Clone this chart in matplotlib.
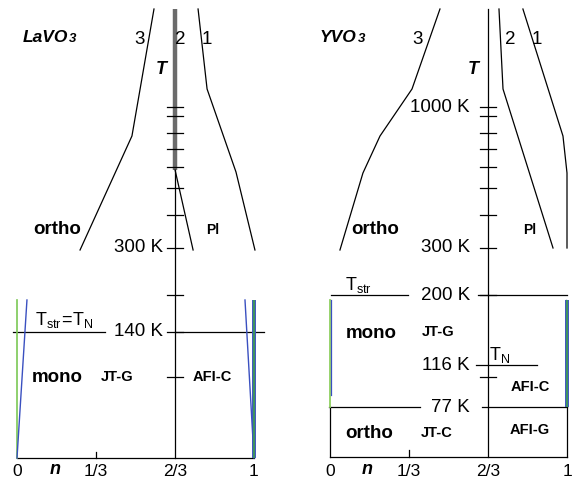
import matplotlib
matplotlib.use("Agg")
import matplotlib.pyplot as plt

plt.rcParams['font.family'] = ['Liberation Sans', 'DejaVu Sans']
plt.rcParams['mathtext.fontset'] = 'custom'
plt.rcParams['mathtext.rm'] = 'Liberation Sans'

# schematic: x is hole filling n, y is a drawing level (0 top, 483 bottom)
PX = 237.0   # pixels per unit n
W, H = 574, 483

# ---- LaVO3 ----
la_c3_n = [0.578, 0.485, 0.266]
la_c3_y = [9, 136, 250]
la_c2_thick_y = [9, 170]
la_c2_n = [0.667, 0.743]
la_c2_y = [170, 250]
la_c1_n = [0.764, 0.802, 0.924, 1.004]
la_c1_y = [9, 89, 172, 250]
la_ticks = [107, 116, 133, 149, 167, 188, 215, 248, 295, 332, 377]
la_tlabels = {248: "300 K", 332: "140 K"}
la_tn_left = [-0.017, 0.371]
la_tn_right = [0.667, 1.042]
la_tn_y = 332
la_blue_l = ([0.0, 0.042], [458, 300])
la_blue_r = ([1.0, 0.962], [458, 300])

# ---- YVO3 ----
y_c3_n = [0.464, 0.346, 0.211, 0.139, 0.042]
y_c3_y = [9, 89, 136, 173, 250]
y_c2_n = [0.713, 0.730, 0.941]
y_c2_y = [9, 89, 248]
y_c1_n = [0.814, 0.983, 1.0, 1.0]
y_c1_y = [9, 136, 173, 248]
y_ticks = [107, 116, 133, 149, 167, 188, 215, 248, 295, 377]
y_tlabels = {107: "1000 K", 248: "300 K", 295: "200 K", 365: "116 K", 407: "77 K"}
y_str_left = [0.004, 0.329]
y_str_right = [0.624, 1.0]
y_str_y = 295
y_tn = [0.616, 0.873]
y_tn_y = 365
y_77_left = [-0.004, 0.380]
y_77_right = [0.641, 1.0]
y_77_y = 407

n_ticks = [0, 1/3, 2/3, 1]
n_labels = ["0", "1/3", "2/3", "1"]

fig = plt.figure(figsize=(W / 100, H / 100), dpi=100)
axL = fig.add_axes([0, 0, 287 / W, 1])
axR = fig.add_axes([287 / W, 0, 287 / W, 1])
axL.set_xlim((0 - 17) / PX, (287 - 17) / PX)
axR.set_xlim((287 - 330) / PX, (574 - 330) / PX)
for ax in (axL, axR):
    ax.set_ylim(H, 0)
    ax.axis('off')

lw = 0.9
k = 'black'
tw = 0.032  # tick half width in n
big = 13.5
lab = 12.5


def compound(ax, x, y, name):
    # formula with a small "3" sitting right after it
    t = ax.text(x, y, name, ha='left', va='center', fontsize=12.5,
                fontweight='bold', fontstyle='italic')
    ax.annotate("3", xy=(1, 0), xycoords=t, xytext=(0.5, 0), textcoords='offset points',
                ha='left', va='bottom', fontsize=9.5, fontweight='bold', fontstyle='italic')


# ================= left panel =================
ax = axL
ax.plot(la_c3_n, la_c3_y, color=k, lw=lw)
ax.plot([2/3, 2/3], la_c2_thick_y, color='#6b6b6b', lw=3.2, solid_capstyle='butt')
ax.plot(la_c2_n, la_c2_y, color=k, lw=lw)
ax.plot(la_c1_n, la_c1_y, color=k, lw=lw)
ax.plot([2/3, 2/3], [170, 458], color=k, lw=lw)
for t in la_ticks:
    ax.plot([2/3 - tw, 2/3 + tw], [t, t], color=k, lw=lw)
for t, s in la_tlabels.items():
    ax.text(0.616, t, s, ha='right', va='center', fontsize=big)
ax.plot(la_tn_left, [la_tn_y] * 2, color=k, lw=lw)
ax.plot(la_tn_right, [la_tn_y] * 2, color=k, lw=lw)
ax.plot([0, 1], [458, 458], color=k, lw=lw)
ax.plot([1/3, 1/3], [452, 458], color=k, lw=lw)
# boundary lines
ax.plot([0, 0], [300, 458], color='#7cc855', lw=1.2)
ax.plot(*la_blue_l, color='#3a50c0', lw=1.0)
ax.plot(*la_blue_r, color='#3a50c0', lw=1.0)
ax.plot([1, 1], [300, 458], color='#3a50c0', lw=2.8, solid_capstyle='butt')
ax.plot([1, 1], [300, 458], color='#3f9a55', lw=1.3, solid_capstyle='butt')

compound(ax, (23 - 17) / PX, 37, "LaVO")
ax.text(0.519, 40, "3", ha='center', va='center', fontsize=big)
ax.text(0.688, 40, "2", ha='center', va='center', fontsize=big)
ax.text(0.802, 40, "1", ha='center', va='center', fontsize=big)
ax.text(0.608, 70, "T", ha='center', va='center', fontsize=13,
        fontweight='bold', fontstyle='italic')
ax.text(0.169, 230, "ortho", ha='center', va='center', fontsize=13.5, fontweight='bold')
ax.text(0.827, 230, "Pl", ha='center', va='center', fontsize=10, fontweight='bold')
ax.text(0.076, 320, r"$\mathrm{T_{str}\!=\!T_N}$", ha='left', va='center', fontsize=13)
ax.text(0.169, 378, "mono", ha='center', va='center', fontsize=13.5, fontweight='bold')
ax.text(0.422, 377, "JT-G", ha='center', va='center', fontsize=10.5, fontweight='bold')
ax.text(0.823, 377, "AFI-C", ha='center', va='center', fontsize=10.5, fontweight='bold')
for n, s in zip(n_ticks, n_labels):
    ax.text(n, 472, s, ha='center', va='center', fontsize=lab)
ax.text(0.16, 470, "n", ha='center', va='center', fontsize=13,
        fontweight='bold', fontstyle='italic')

# ================= right panel =================
ax = axR
ax.plot(y_c3_n, y_c3_y, color=k, lw=lw)
ax.plot(y_c2_n, y_c2_y, color=k, lw=lw)
ax.plot(y_c1_n, y_c1_y, color=k, lw=lw)
ax.plot([2/3, 2/3], [9, 457], color=k, lw=lw)
for t in y_ticks:
    ax.plot([2/3 - tw, 2/3 + tw], [t, t], color=k, lw=lw)
for t, s in y_tlabels.items():
    ax.text(0.591, t, s, ha='right', va='center', fontsize=big)
ax.plot(y_str_left, [y_str_y] * 2, color=k, lw=lw)
ax.plot(y_str_right, [y_str_y] * 2, color=k, lw=lw)
ax.plot(y_tn, [y_tn_y] * 2, color=k, lw=lw)
ax.plot(y_77_left, [y_77_y] * 2, color=k, lw=lw)
ax.plot(y_77_right, [y_77_y] * 2, color=k, lw=lw)
ax.plot([0, 0], [y_77_y, 457], color=k, lw=lw)
ax.plot([1, 1], [y_77_y, 457], color=k, lw=lw)
ax.plot([0, 1], [457, 457], color=k, lw=lw)
ax.plot([1/3, 1/3], [450, 457], color=k, lw=lw)
# boundary lines
ax.plot([0, 0], [300, 407], color='#8fd060', lw=1.3)
ax.plot([0.005, 0.005], [300, 395], color='#3a50c0', lw=0.9)
ax.plot([1, 1], [300, 407], color='#3a50c0', lw=2.8, solid_capstyle='butt')
ax.plot([0.995, 0.995], [300, 362], color='#3a50c0', lw=1.0)
ax.plot([1.002, 1.002], [300, 407], color='#3f9a55', lw=1.3, solid_capstyle='butt')

compound(ax, (320 - 330) / PX, 37, "YVO")
ax.text(0.371, 40, "3", ha='center', va='center', fontsize=big)
ax.text(0.759, 40, "2", ha='center', va='center', fontsize=big)
ax.text(0.873, 40, "1", ha='center', va='center', fontsize=big)
ax.text(0.603, 70, "T", ha='center', va='center', fontsize=13,
        fontweight='bold', fontstyle='italic')
ax.text(0.19, 230, "ortho", ha='center', va='center', fontsize=13.5, fontweight='bold')
ax.text(0.844, 230, "Pl", ha='center', va='center', fontsize=10, fontweight='bold')
ax.text(0.063, 285, r"$\mathrm{T_{str}}$", ha='left', va='center', fontsize=13)
ax.text(0.717, 355, r"$\mathrm{T_N}$", ha='center', va='center', fontsize=13)
ax.text(0.173, 333, "mono", ha='center', va='center', fontsize=13.5, fontweight='bold')
ax.text(0.456, 332, "JT-G", ha='center', va='center', fontsize=10.5, fontweight='bold')
ax.text(0.844, 387, "AFI-C", ha='center', va='center', fontsize=10.5, fontweight='bold')
ax.text(0.165, 433, "ortho", ha='center', va='center', fontsize=13.5, fontweight='bold')
ax.text(0.451, 433, "JT-C", ha='center', va='center', fontsize=10.5, fontweight='bold')
ax.text(0.844, 430, "AFI-G", ha='center', va='center', fontsize=10.5, fontweight='bold')
for n, s in zip(n_ticks, n_labels):
    ax.text(n, 472, s, ha='center', va='center', fontsize=lab)
ax.text(0.156, 470, "n", ha='center', va='center', fontsize=13,
        fontweight='bold', fontstyle='italic')

fig.savefig("out.png", dpi=100)
